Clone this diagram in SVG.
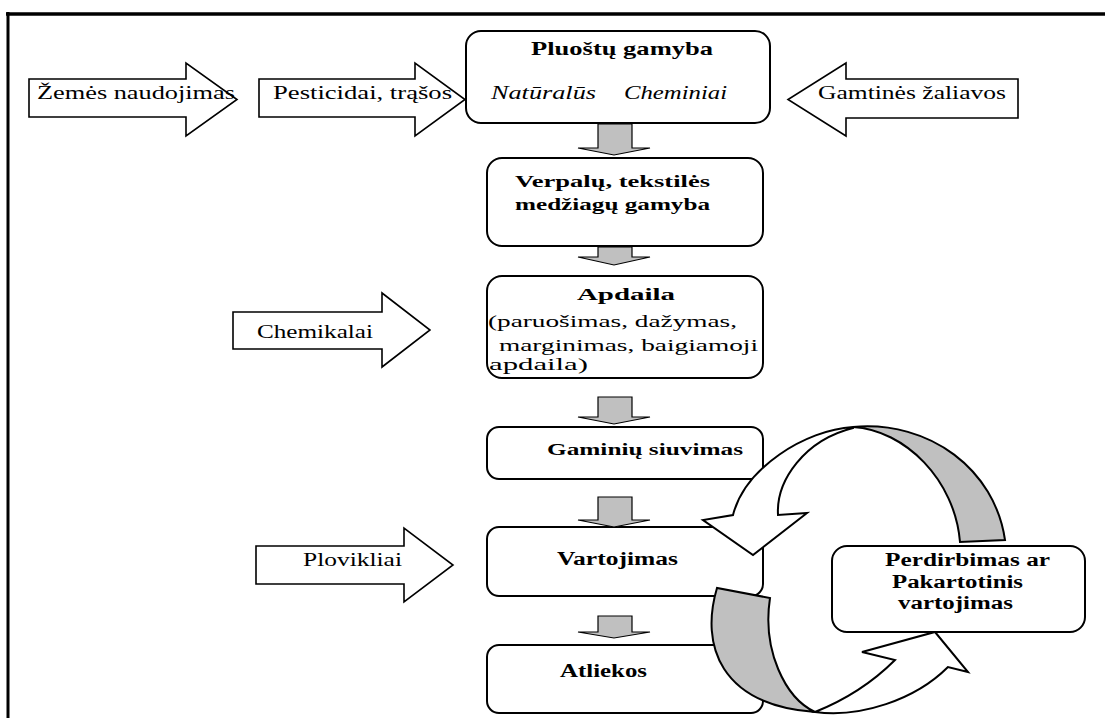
<svg xmlns="http://www.w3.org/2000/svg" width="1105" height="718" viewBox="0 0 1105 718">
<style>
.t{font-family:"Liberation Serif","Times New Roman",serif;fill:#000}
.r{font-size:18px}
.b{font-size:18px;font-weight:bold}
.i{font-size:18px;font-style:italic}
.box{fill:#fff;stroke:#000;stroke-width:2}
.ba{fill:#fff;stroke:#000;stroke-width:1.6;stroke-linejoin:miter}
.ga{fill:#c0c0c0;stroke:#000;stroke-width:1.2;stroke-linejoin:miter}
.ca{fill:#fff;stroke:#000;stroke-width:2;stroke-linejoin:miter}
.cg{fill:#c0c0c0;stroke:#000;stroke-width:2;stroke-linejoin:miter}
</style>
<rect width="1105" height="718" fill="#fff"/>
<g id="frame">
<line x1="6" y1="14" x2="1105" y2="14" stroke="#000" stroke-width="3.5"/>
<line x1="8" y1="12" x2="8" y2="718" stroke="#000" stroke-width="3"/>
</g>

<g id="in-zemes">
<polygon class="ba" points="29,79 186,79 186,63 237,99.5 186,136 186,117 29,117"/>
<text class="t r" x="37" y="99" textLength="198" lengthAdjust="spacingAndGlyphs">Žemės naudojimas</text>
</g>
<g id="in-pesticidai">
<polygon class="ba" points="259,79 415,79 415,63 465,99.5 415,136 415,117 259,117"/>
<text class="t r" x="273" y="99" textLength="179" lengthAdjust="spacingAndGlyphs">Pesticidai, trąšos</text>
</g>
<g id="in-gamtines">
<polygon class="ba" points="1018,79 846,79 846,63 788,99.5 846,136 846,118 1018,118"/>
<text class="t r" x="818" y="99" textLength="188" lengthAdjust="spacingAndGlyphs">Gamtinės žaliavos</text>
</g>
<g id="in-chemikalai">
<polygon class="ba" points="233,312 382,312 382,293 430,330 382,367 382,349 233,349"/>
<text class="t r" x="257" y="338" textLength="116" lengthAdjust="spacingAndGlyphs">Chemikalai</text>
</g>
<g id="in-plovikliai">
<polygon class="ba" points="256,546 404,546 404,528 453,565 404,602 404,584 256,584"/>
<text class="t r" x="303" y="566" textLength="99" lengthAdjust="spacingAndGlyphs">Plovikliai</text>
</g>

<g id="pluostu">
<rect class="box" x="466" y="31" width="304" height="92" rx="15"/>
<text class="t b" x="531" y="55" textLength="182" lengthAdjust="spacingAndGlyphs" style="font-size:19px">Pluoštų gamyba</text>
<text class="t i" x="491" y="99" textLength="105" lengthAdjust="spacingAndGlyphs">Natūralūs</text>
<text class="t i" x="624" y="99" textLength="103" lengthAdjust="spacingAndGlyphs">Cheminiai</text>
</g>
<g id="verpalu">
<rect class="box" x="487" y="158" width="276" height="88" rx="15"/>
<text class="t b" x="515" y="187" textLength="195" lengthAdjust="spacingAndGlyphs" style="font-size:17px">Verpalų, tekstilės</text>
<text class="t b" x="515" y="210" textLength="195" lengthAdjust="spacingAndGlyphs" style="font-size:17px">medžiagų gamyba</text>
</g>
<g id="apdaila">
<rect class="box" x="487" y="276" width="276" height="102" rx="15"/>
<text class="t b" x="577" y="300" textLength="98" lengthAdjust="spacingAndGlyphs" style="font-size:17px">Apdaila</text>
<text class="t r" x="488" y="327" textLength="249" lengthAdjust="spacingAndGlyphs" style="font-size:17px">(paruošimas, dažymas,</text>
<text class="t r" x="499" y="351" textLength="259" lengthAdjust="spacingAndGlyphs" style="font-size:17px">marginimas, baigiamoji</text>
<text class="t r" x="489" y="370" textLength="99" lengthAdjust="spacingAndGlyphs" style="font-size:17px">apdaila)</text>
</g>
<g id="gaminiu">
<rect class="box" x="487" y="427" width="276" height="52" rx="12"/>
<text class="t b" x="547" y="455" textLength="196" lengthAdjust="spacingAndGlyphs" style="font-size:17px">Gaminių siuvimas</text>
</g>
<g id="vartojimas">
<rect class="box" x="487" y="527" width="276" height="69" rx="12"/>
<text class="t b" x="557" y="565" textLength="121" lengthAdjust="spacingAndGlyphs">Vartojimas</text>
</g>
<g id="atliekos">
<rect class="box" x="487" y="645" width="276" height="68" rx="12"/>
<text class="t b" x="560" y="677" textLength="87" lengthAdjust="spacingAndGlyphs">Atliekos</text>
</g>

<g id="connectors">
<polygon class="ga" points="598,124 632,124 632,148 650,148 614,155 578,148 598,148"/>
<polygon class="ga" points="598,247 632,247 632,257 650,257 614,265 578,257 598,257"/>
<polygon class="ga" points="598,397 632,397 632,417 650,417 614,424 578,417 598,417"/>
<polygon class="ga" points="598,497 632,497 632,520 650,520 614,527 578,520 598,520"/>
<polygon class="ga" points="598,616 632,616 632,632 650,632 614,638 578,632 598,632"/>
<path class="cg" d="M853,427 C930,420 995,470 1005,540 L960,542 C955,480 905,430 853,427 Z"/>
<path class="ca" d="M853,427 C805,430 745,468 733,515 L703,520 L753,555 L807,513 L778,515 C776,480 805,440 853,428 Z"/>
<path class="cg" d="M717,588 C700,645 720,705 815,712 C785,698 762,650 770,598 Z"/>
<path class="ca" d="M815,712 C860,718 915,700 948,667 L968,672 L935,632 L862,652 L895,660 C870,685 845,700 815,712 Z"/>
</g>

<g id="perdirbimas">
<rect class="box" x="832" y="546" width="253" height="86" rx="15"/>
<text class="t b" x="885" y="566" textLength="165" lengthAdjust="spacingAndGlyphs">Perdirbimas ar</text>
<text class="t b" x="892" y="588" textLength="131" lengthAdjust="spacingAndGlyphs">Pakartotinis</text>
<text class="t b" x="898" y="609" textLength="115" lengthAdjust="spacingAndGlyphs">vartojimas</text>
</g>
</svg>
